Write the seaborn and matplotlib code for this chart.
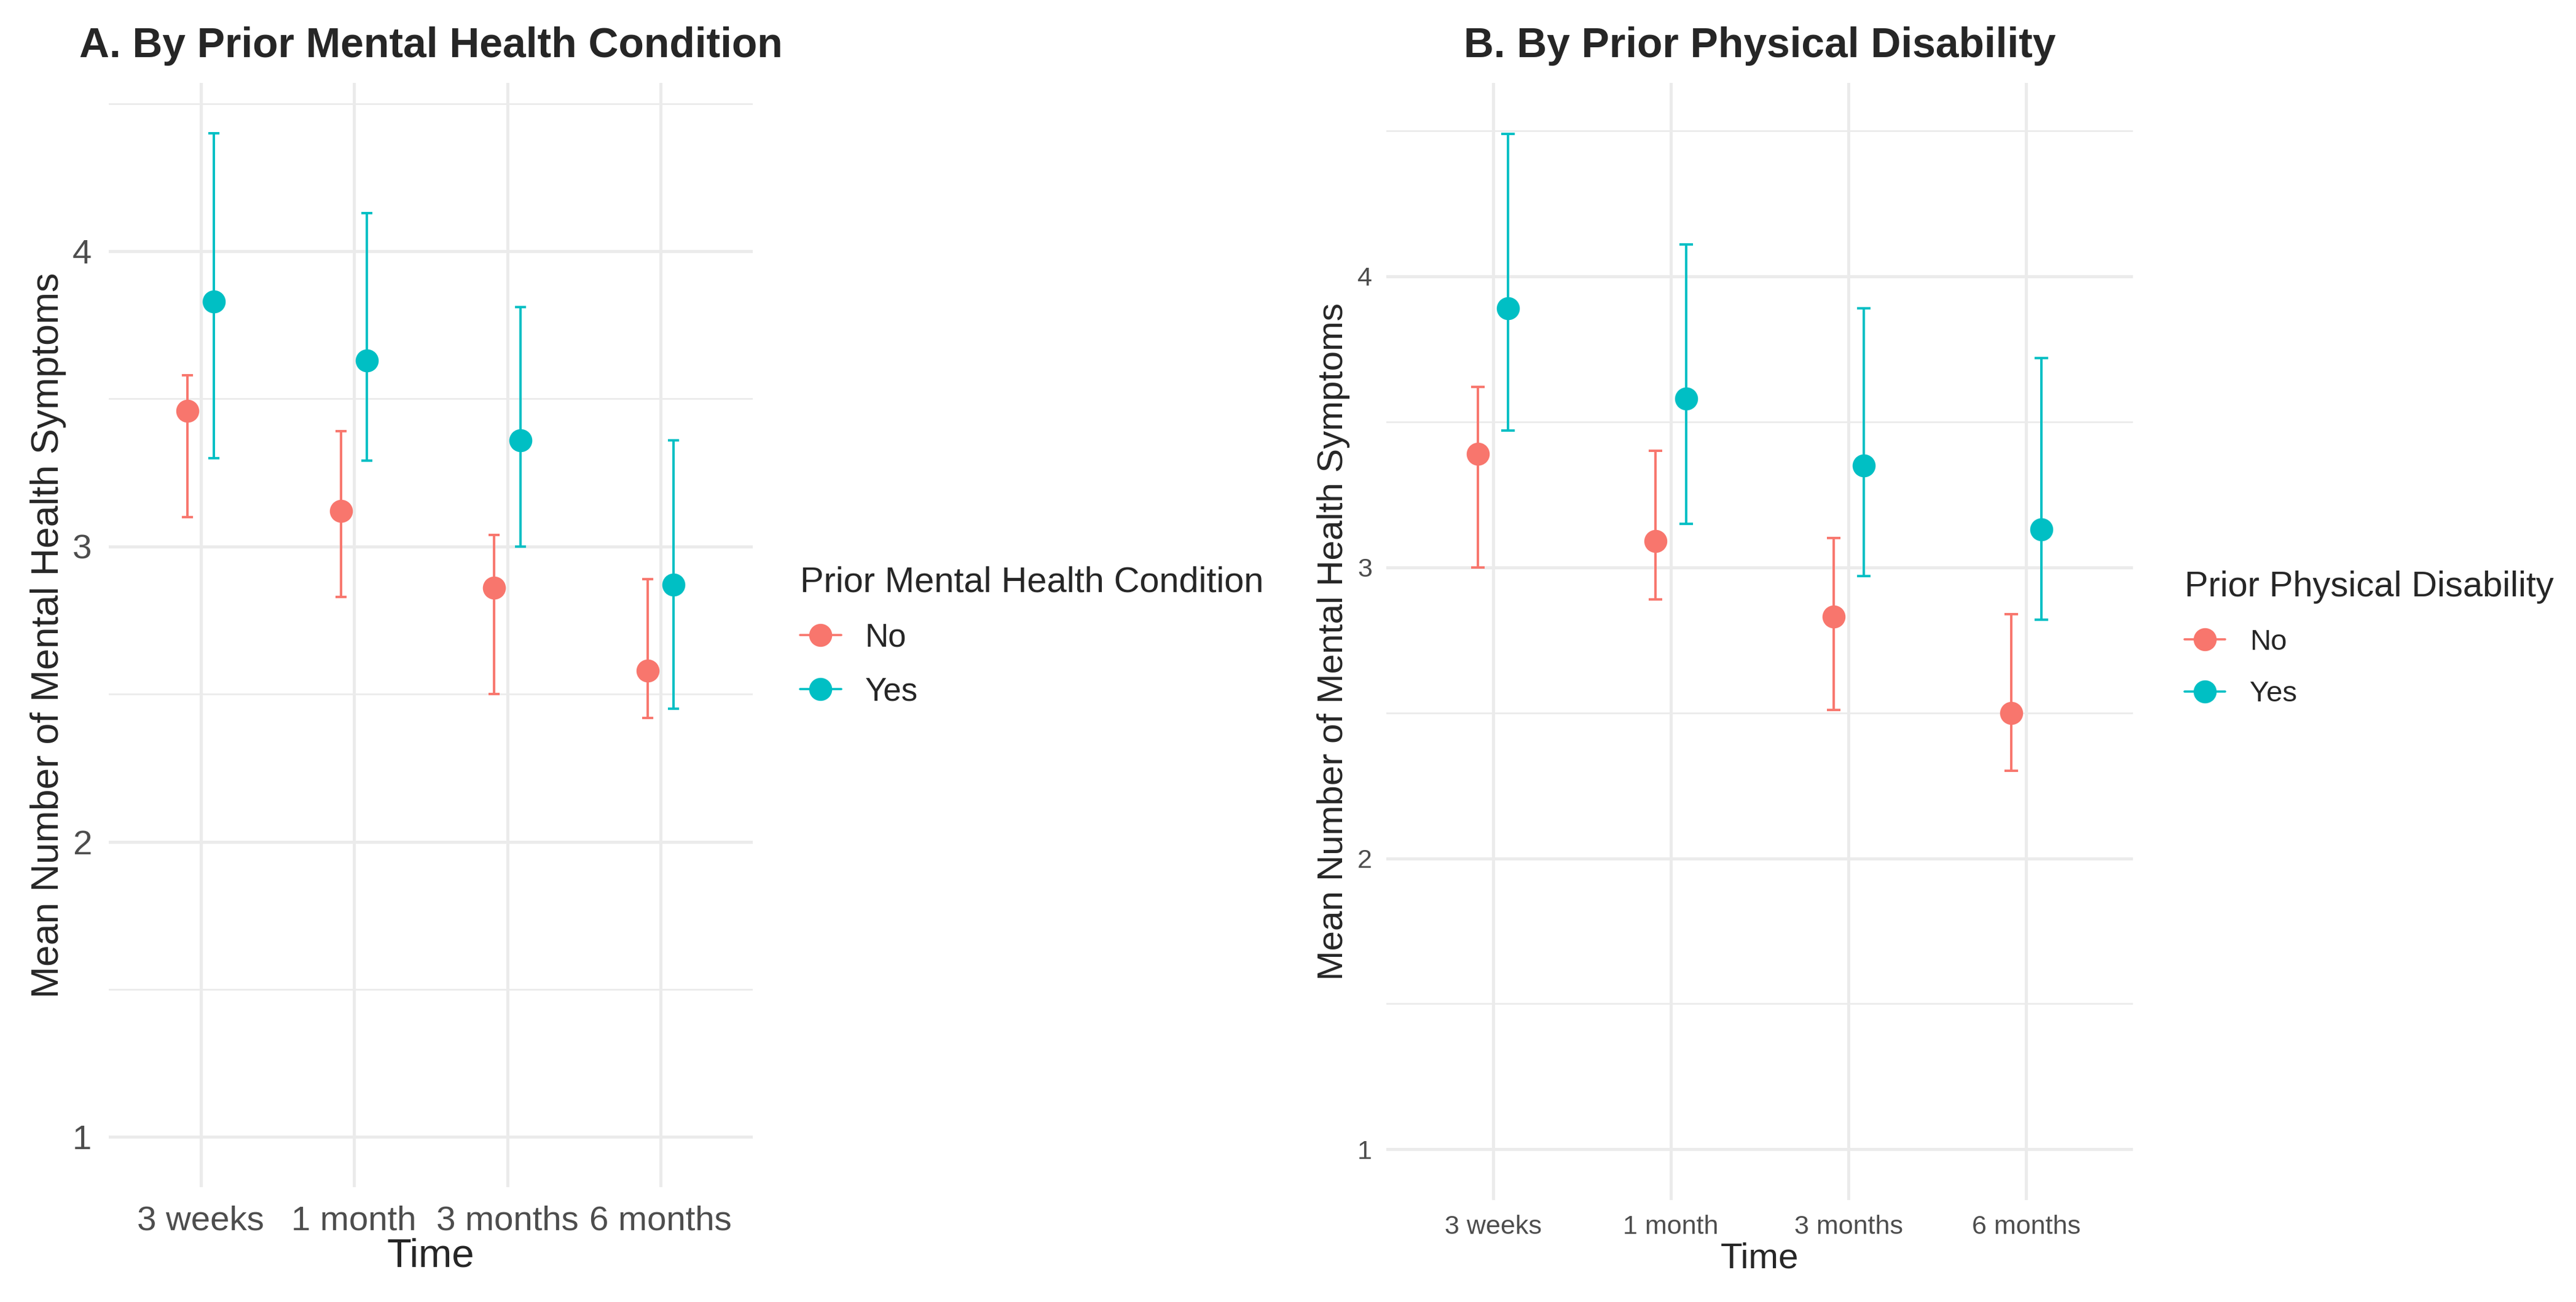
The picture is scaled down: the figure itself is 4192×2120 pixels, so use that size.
import numpy as np
import pandas as pd
import matplotlib
matplotlib.use("Agg")
import matplotlib.pyplot as plt
import seaborn as sns
from matplotlib.lines import Line2D
from matplotlib.ticker import MultipleLocator

sns.set_style("white")
plt.rcParams['font.family'] = ['Liberation Sans', 'DejaVu Sans']

# ---- data ----
times = ["3 weeks", "1 month", "3 months", "6 months"]
groups = ["No", "Yes"]
palette = {"No": "#F8766D", "Yes": "#00BFC4"}

# A. prior mental health condition
mh_no_mean = [3.46, 3.12, 2.86, 2.58]
mh_no_lo = [3.10, 2.83, 2.50, 2.42]
mh_no_hi = [3.58, 3.39, 3.04, 2.89]
mh_yes_mean = [3.83, 3.63, 3.36, 2.87]
mh_yes_lo = [3.30, 3.29, 3.00, 2.45]
mh_yes_hi = [4.40, 4.13, 3.81, 3.36]

# B. prior physical disability
pd_no_mean = [3.39, 3.09, 2.83, 2.50]
pd_no_lo = [3.00, 2.89, 2.51, 2.30]
pd_no_hi = [3.62, 3.40, 3.10, 2.84]
pd_yes_mean = [3.89, 3.58, 3.35, 3.13]
pd_yes_lo = [3.47, 3.15, 2.97, 2.82]
pd_yes_hi = [4.49, 4.11, 3.89, 3.72]

y_floor = 1.0  # both panels show the y axis down to 1


def make_frame(no_mean, no_lo, no_hi, yes_mean, yes_lo, yes_hi):
    rows = []
    for g, m, lo, hi in [("No", no_mean, no_lo, no_hi), ("Yes", yes_mean, yes_lo, yes_hi)]:
        for t, a, b, c in zip(times, m, lo, hi):
            rows.append({"time": t, "group": g, "mean": a, "lo": b, "hi": c})
    return pd.DataFrame(rows)


def draw_panel(ax, df, title, ylabel_pos, xlabel_pos, s):
    sns.pointplot(
        data=df, x="time", y="mean", hue="group",
        order=times, hue_order=groups, palette=palette,
        dodge=0.17, errorbar=None, marker="o", linestyle="none",
        markersize=13.5, markeredgewidth=0, zorder=3,
        legend=False, ax=ax
    )
    # error bars at the dodged positions seaborn used
    for line, g in zip(ax.lines[:len(groups)], groups):
        sub = df[df["group"] == g].set_index("time").loc[times]
        ax.errorbar(
            line.get_xdata(), sub["mean"],
            yerr=[sub["mean"] - sub["lo"], sub["hi"] - sub["mean"]],
            fmt="none", ecolor=palette[g], elinewidth=1.4,
            capsize=s["capsize"], capthick=1.4, zorder=2
        )

    ymax = df["hi"].max()
    pad = 0.05 * (ymax - y_floor)
    ax.set_ylim(y_floor - pad, ymax + pad)
    ax.set_xlim(-0.6, len(times) - 0.4)

    ax.yaxis.set_major_locator(MultipleLocator(1))
    ax.yaxis.set_minor_locator(MultipleLocator(0.5))
    ax.set_axisbelow(True)
    ax.grid(which="major", axis="both", color="#EBEBEB", linewidth=1.8)
    ax.grid(which="minor", axis="y", color="#EBEBEB", linewidth=1.0)
    for sp in ax.spines.values():
        sp.set_visible(False)

    ax.tick_params(axis="both", which="both", length=0, colors="#4D4D4D",
                   labelsize=s["tick"])
    ax.tick_params(axis="y", pad=s["ypad"])
    ax.tick_params(axis="x", pad=s["xpad"])

    ax.set_title(title, fontsize=24.4, fontweight="bold", pad=15)
    ax.set_xlabel("Time", fontsize=s["xlab"])
    ax.set_ylabel("Mean Number of Mental Health Symptoms", fontsize=s["ylab"])
    ax.xaxis.set_label_coords(0.5, xlabel_pos)
    ax.yaxis.set_label_coords(ylabel_pos, 0.5)

    handles = [Line2D([0], [0], color=palette[g], marker="o", markersize=13.5,
                      markeredgewidth=0, linewidth=1.3) for g in groups]
    ax.legend(handles, groups, title=s["leg_title"], loc="upper left",
              bbox_to_anchor=s["leg_anchor"], bbox_transform=ax.figure.transFigure,
              frameon=False, fontsize=s["leg_text"], title_fontsize=s["leg_tsize"],
              handlelength=s["hlen"], handletextpad=s["hpad"],
              labelspacing=s["lspace"], borderpad=0, borderaxespad=0,
              alignment="left")


fig = plt.figure(figsize=(20.96, 10.6), dpi=200)
fig.patch.set_facecolor("white")

ax_a = fig.add_axes([0.0422, 0.0882, 0.25, 0.8481])
ax_b = fig.add_axes([0.5382, 0.0783, 0.2898, 0.858])

df_a = make_frame(mh_no_mean, mh_no_lo, mh_no_hi, mh_yes_mean, mh_yes_lo, mh_yes_hi)
df_b = make_frame(pd_no_mean, pd_no_lo, pd_no_hi, pd_yes_mean, pd_yes_lo, pd_yes_hi)

draw_panel(ax_a, df_a, "A. By Prior Mental Health Condition", -0.066, -0.046, {
    "capsize": 3.2, "tick": 20.3, "ypad": 10, "xpad": 10.5, "xlab": 23.5, "ylab": 22.5,
    "leg_title": "Prior Mental Health Condition", "leg_anchor": (0.3106, 0.5654),
    "leg_text": 19, "leg_tsize": 20.8, "hlen": 1.26, "hpad": 0.75, "lspace": 0.72,
})
draw_panel(ax_b, df_b, "B. By Prior Physical Disability", -0.0486, -0.0374, {
    "capsize": 3.8, "tick": 15.5, "ypad": 8.3, "xpad": 8.8, "xlab": 21, "ylab": 21,
    "leg_title": "Prior Physical Disability", "leg_anchor": (0.848, 0.5618),
    "leg_text": 17, "leg_tsize": 20.8, "hlen": 1.4, "hpad": 0.85, "lspace": 0.86,
})

fig.savefig("out.png", dpi=200, facecolor="white")
